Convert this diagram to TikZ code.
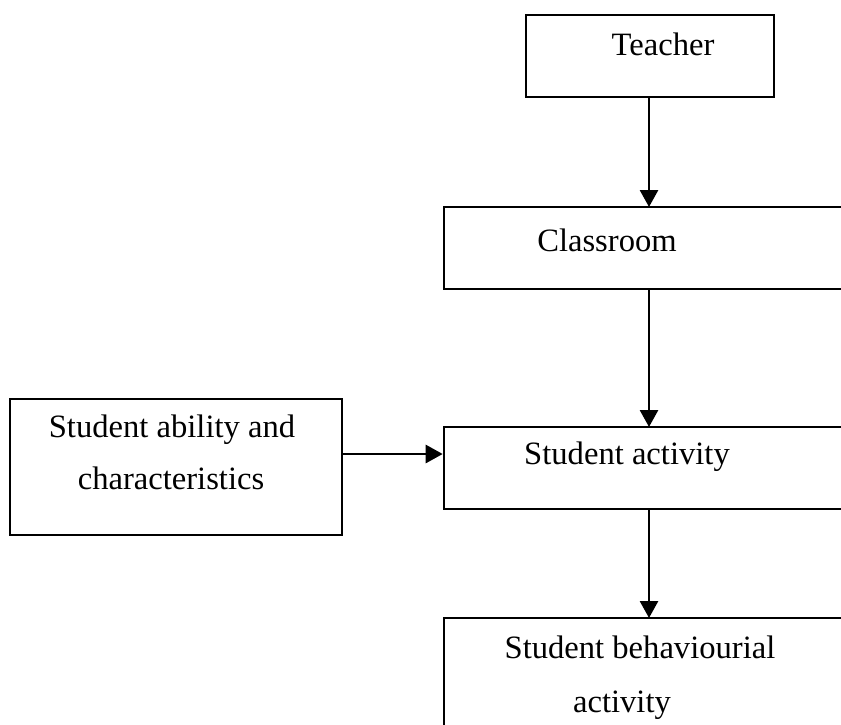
\documentclass[tikz,border=0pt]{standalone}
\usepackage{fontspec}
\setmainfont{Liberation Serif}
\usetikzlibrary{arrows.meta}
\begin{document}
\begin{tikzpicture}[x=1pt,y=1pt,
  boxnode/.style={draw,line width=2.6pt,rectangle,inner sep=0pt},
  txt/.style={inner sep=0pt,font=\fontsize{32.6}{47}\selectfont,align=center},
  conn/.style={line width=2.8pt,-{Triangle[length=17pt,width=18pt]}}]
\useasboundingbox (0,0) rectangle (841,-724);
\clip (0,0) rectangle (841,-724);
\node[boxnode,minimum width=248,minimum height=82] (teacher) at (650,-56) {};
\node[boxnode,minimum width=416,minimum height=82] (classroom) at (652,-248) {};
\node[boxnode,minimum width=332,minimum height=136] (ability) at (176,-467) {};
\node[boxnode,minimum width=416,minimum height=82] (activity) at (652,-468) {};
\node[boxnode,minimum width=416,minimum height=130] (behav) at (652,-683) {};
\node[txt] (tteacher) at (663,-44) {Teacher};
\node[txt] (tclass) at (607,-240) {Classroom};
\node[txt] (tab1) at (172,-430) {Student ability and};
\node[txt] (tab2) at (171,-478) {characteristics};
\node[txt] (tact) at (627,-457) {Student activity};
\node[txt] (tbeh1) at (640,-647) {Student behaviourial};
\node[txt] (tbeh2) at (622,-705) {activity};
\coordinate (a1) at (649,-97);
\coordinate (a2) at (649,-207);
\coordinate (b1) at (649,-289);
\coordinate (b2) at (649,-427);
\coordinate (c1) at (649,-509);
\coordinate (c2) at (649,-618);
\draw[conn] (a1) -- (a2);
\draw[conn] (b1) -- (b2);
\draw[conn] (c1) -- (c2);
\draw[conn] (ability.east |- 0,-454) -- (activity.west |- 0,-454);
\end{tikzpicture}
\end{document}
